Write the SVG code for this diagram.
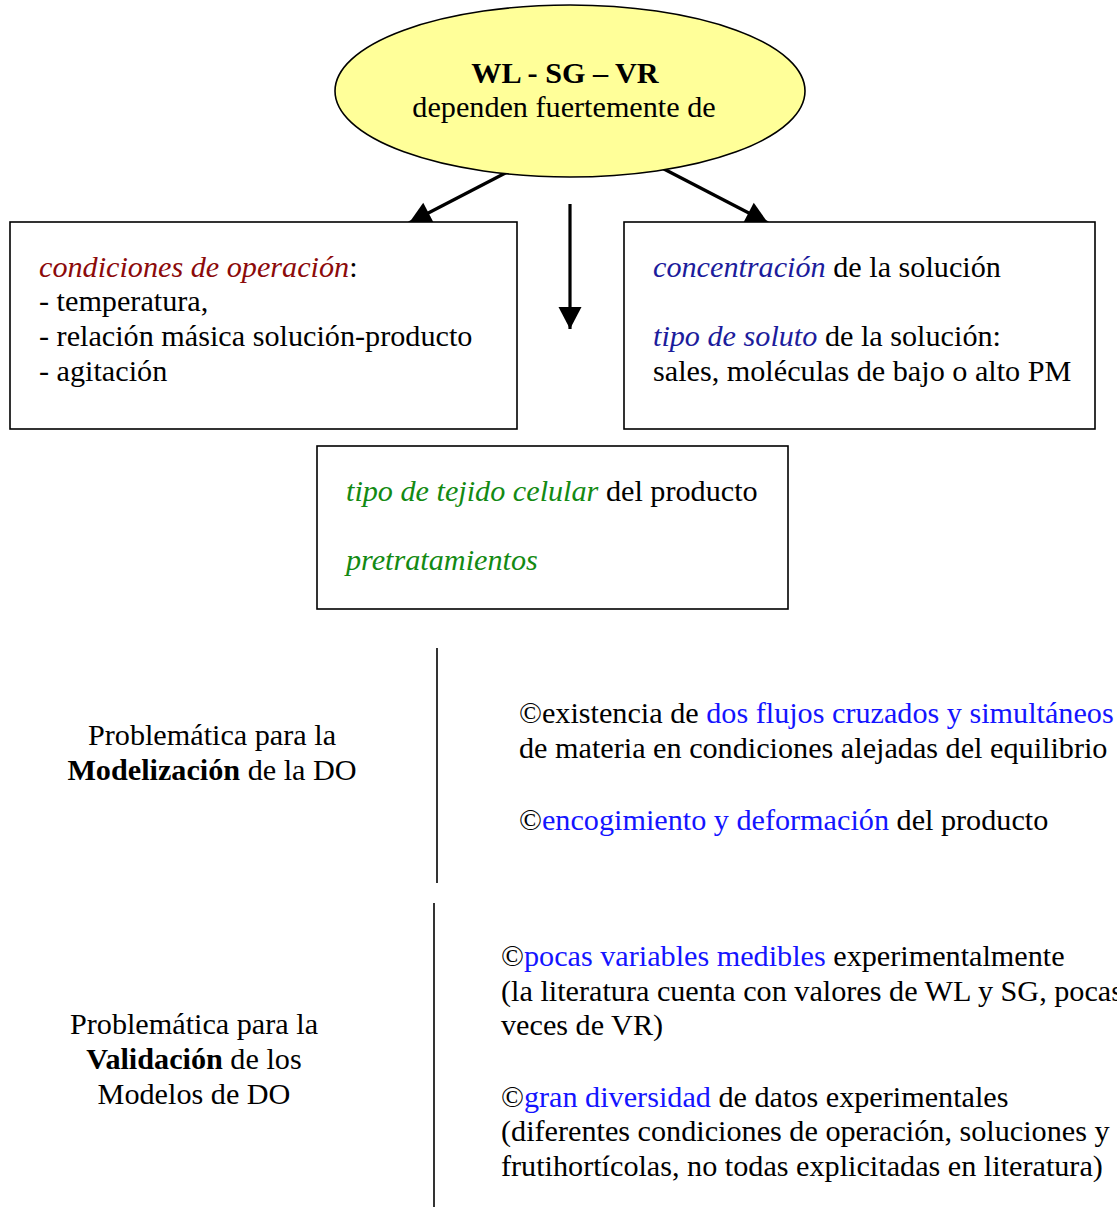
<svg xmlns="http://www.w3.org/2000/svg" width="1117" height="1207" viewBox="0 0 1117 1207">
<style>
text{font-family:"Liberation Serif","Times New Roman",serif;font-size:30.2px;fill:#000}
.b{font-weight:bold}
.i{font-style:italic}
.red{fill:#8c0a0a}
.navy{fill:#1c1c9c}
.green{fill:#138a13}
.blue{fill:#1414ff}
.box{fill:#fff;stroke:#000;stroke-width:1.6}
.conn{stroke:#000;stroke-width:3.2;fill:none}
.sep{stroke:#000;stroke-width:1.6}
</style>
<defs>
<marker id="ah" markerUnits="userSpaceOnUse" markerWidth="24" markerHeight="24" viewBox="0 -12 23 24" refX="22" refY="0" orient="auto">
<path d="M0,-11.5 L22,0 L0,11.5 z" fill="#000"/>
</marker>
</defs>
<g id="connectors">
<line class="conn" x1="515" y1="168" x2="409" y2="223" marker-end="url(#ah)"/>
<line class="conn" x1="662" y1="168" x2="768" y2="223" marker-end="url(#ah)"/>
<line class="conn" x1="570" y1="204" x2="570" y2="329" marker-end="url(#ah)"/>
</g>
<g id="n-center">
<ellipse cx="570" cy="91" rx="235" ry="86" fill="#ffff99" stroke="#000" stroke-width="1.6"/>
<text x="565" y="83" text-anchor="middle" class="b">WL - SG – VR</text>
<text x="564" y="117" text-anchor="middle">dependen fuertemente de</text>
</g>
<g id="n-operacion">
<rect class="box" x="10" y="222" width="507" height="207"/>
<text x="39" y="277"><tspan class="i red">condiciones de operación</tspan><tspan>:</tspan></text>
<text x="39" y="311">- temperatura,</text>
<text x="39" y="346">- relación másica solución-producto</text>
<text x="39" y="381">- agitación</text>
</g>
<g id="n-solucion">
<rect class="box" x="624" y="222" width="471" height="207"/>
<text x="653" y="277"><tspan class="i navy">concentración</tspan> de la solución</text>
<text x="653" y="346"><tspan class="i navy">tipo de soluto</tspan> de la solución:</text>
<text x="653" y="381">sales, moléculas de bajo o alto PM</text>
</g>
<g id="n-producto">
<rect class="box" x="317" y="446" width="471" height="163"/>
<text x="346" y="501"><tspan class="i green">tipo de tejido celular</tspan> del producto</text>
<text x="346" y="570" class="i green">pretratamientos</text>
</g>
<g id="n-modelizacion">
<text x="212" y="745" text-anchor="middle">Problemática para la</text>
<text x="212" y="780" text-anchor="middle"><tspan class="b">Modelización</tspan> de la DO</text>
<line class="sep" x1="437" y1="648" x2="437" y2="883"/>
<text x="519" y="723">©existencia de <tspan class="blue">dos flujos cruzados y simultáneos</tspan></text>
<text x="519" y="758">de materia en condiciones alejadas del equilibrio</text>
<text x="519" y="830">©<tspan class="blue">encogimiento y deformación</tspan> del producto</text>
</g>
<g id="n-validacion">
<text x="194" y="1034" text-anchor="middle">Problemática para la</text>
<text x="194" y="1069" text-anchor="middle"><tspan class="b">Validación</tspan> de los</text>
<text x="194" y="1104" text-anchor="middle">Modelos de DO</text>
<line class="sep" x1="434" y1="903" x2="434" y2="1207"/>
<text x="501" y="966">©<tspan class="blue">pocas variables medibles</tspan> experimentalmente</text>
<text x="501" y="1001">(la literatura cuenta con valores de WL y SG, pocas</text>
<text x="501" y="1035">veces de VR)</text>
<text x="501" y="1107">©<tspan class="blue">gran diversidad</tspan> de datos experimentales</text>
<text x="501" y="1141">(diferentes condiciones de operación, soluciones y</text>
<text x="501" y="1176">frutihortícolas, no todas explicitadas en literatura)</text>
</g>
</svg>
